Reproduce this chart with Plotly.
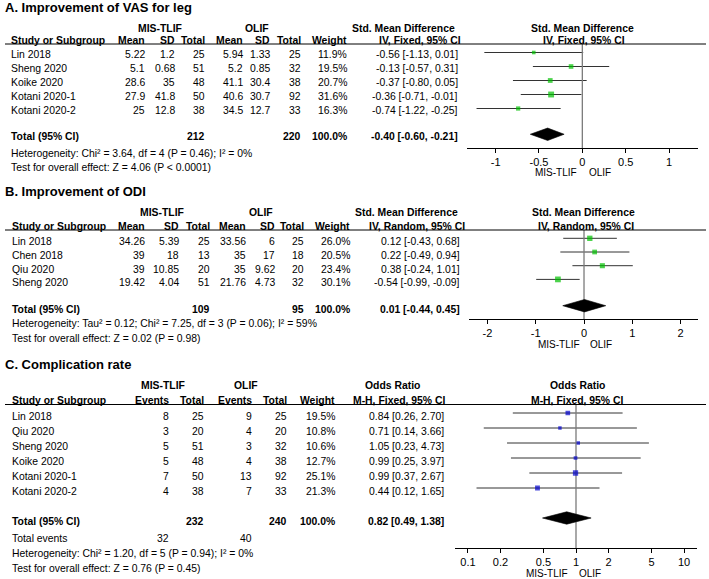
import math
import plotly.graph_objects as go

W, H = 709, 579
FONT = "Liberation Sans, Arial, sans-serif"
FS = 10.4

# ---------------- Panel A data ----------------
a_title = "A. Improvement of VAS for leg"
a_studies = ["Lin 2018", "Sheng 2020", "Koike 2020", "Kotani 2020-1", "Kotani 2020-2"]
a_mis_mean = [5.22, 5.1, 28.6, 27.9, 25]
a_mis_sd = [1.2, 0.68, 35, 41.8, 12.8]
a_mis_n = [25, 51, 48, 50, 38]
a_olif_mean = [5.94, 5.2, 41.1, 40.6, 34.5]
a_olif_sd = [1.33, 0.85, 30.4, 30.7, 12.7]
a_olif_n = [25, 32, 38, 92, 33]
a_weight = [11.9, 19.5, 20.7, 31.6, 16.3]
a_est = [-0.56, -0.13, -0.37, -0.36, -0.74]
a_lo = [-1.13, -0.57, -0.80, -0.71, -1.22]
a_hi = [0.01, 0.31, 0.05, -0.01, -0.25]
a_tot_mis_n, a_tot_olif_n = 212, 220
a_tot_est, a_tot_lo, a_tot_hi = -0.40, -0.60, -0.21
a_het = "Heterogeneity: Chi² = 3.64, df = 4 (P = 0.46); I² = 0%"
a_test = "Test for overall effect: Z = 4.06 (P < 0.0001)"
a_measure = "Std. Mean Difference"
a_method = "IV, Fixed, 95% CI"
a_ticks = [-1, -0.5, 0, 0.5, 1]

# ---------------- Panel B data ----------------
b_title = "B. Improvement of ODI"
b_studies = ["Lin 2018", "Chen 2018", "Qiu 2020", "Sheng 2020"]
b_mis_mean = [34.26, 39, 39, 19.42]
b_mis_sd = [5.39, 18, 10.85, 4.04]
b_mis_n = [25, 13, 20, 51]
b_olif_mean = [33.56, 35, 35, 21.76]
b_olif_sd = [6, 17, 9.62, 4.73]
b_olif_n = [25, 18, 20, 32]
b_weight = [26.0, 20.5, 23.4, 30.1]
b_est = [0.12, 0.22, 0.38, -0.54]
b_lo = [-0.43, -0.49, -0.24, -0.99]
b_hi = [0.68, 0.94, 1.01, -0.09]
b_tot_mis_n, b_tot_olif_n = 109, 95
b_tot_est, b_tot_lo, b_tot_hi = 0.01, -0.44, 0.45
b_het = "Heterogeneity: Tau² = 0.12; Chi² = 7.25, df = 3 (P = 0.06); I² = 59%"
b_test = "Test for overall effect: Z = 0.02 (P = 0.98)"
b_measure = "Std. Mean Difference"
b_method = "IV, Random, 95% CI"
b_ticks = [-2, -1, 0, 1, 2]

# ---------------- Panel C data ----------------
c_title = "C. Complication rate"
c_studies = ["Lin 2018", "Qiu 2020", "Sheng 2020", "Koike 2020", "Kotani 2020-1", "Kotani 2020-2"]
c_mis_ev = [8, 3, 5, 5, 7, 4]
c_mis_n = [25, 20, 51, 48, 50, 38]
c_olif_ev = [9, 4, 3, 4, 13, 7]
c_olif_n = [25, 20, 32, 38, 92, 33]
c_weight = [19.5, 10.8, 10.6, 12.7, 25.1, 21.3]
c_est = [0.84, 0.71, 1.05, 0.99, 0.99, 0.44]
c_lo = [0.26, 0.14, 0.23, 0.25, 0.37, 0.12]
c_hi = [2.70, 3.66, 4.73, 3.97, 2.67, 1.65]
c_tot_mis_n, c_tot_olif_n = 232, 240
c_tot_mis_ev, c_tot_olif_ev = 32, 40
c_tot_est, c_tot_lo, c_tot_hi = 0.82, 0.49, 1.38
c_het = "Heterogeneity: Chi² = 1.20, df = 5 (P = 0.94); I² = 0%"
c_test = "Test for overall effect: Z = 0.76 (P = 0.45)"
c_measure = "Odds Ratio"
c_method = "M-H, Fixed, 95% CI"
c_ticks = [0.1, 0.2, 0.5, 1, 2, 5, 10]

group1, group2 = "MIS-TLIF", "OLIF"

GREEN = "#00c000"
BLUE = "#0000cc"

annotations = []
shapes = []
traces = []
layout_axes = {}


def fmt_num(v):
    return str(v)


def fmt_tick(v):
    return str(int(v)) if float(v).is_integer() else str(v)


def fmt_ci(e, l, h):
    return f"{e:.2f} [{l:.2f}, {h:.2f}]"


def add_text(text, x, y, anchor="left", bold=False, size=FS, yref="paper", yshift=0):
    if bold:
        text = f"<b>{text}</b>"
    yy = (1 - y / H) if yref == "paper" else y
    annotations.append(dict(
        text=text, x=x / W, xref="paper", y=yy, yref=yref,
        xanchor=anchor, yanchor="middle", showarrow=False, borderpad=0,
        font=dict(size=size, color="black", family=FONT), yshift=yshift))


def build_panel(k, spec, title, cols, studies, weights, est, lo, hi,
                totals, tot_est, tot_lo, tot_hi, measure, method,
                ticks, ref, log, color, foot):
    yname = "y" if k == 1 else f"y{k}"
    xname = "x" if k == 1 else f"x{k}"
    r0, step, off = spec["row0"], spec["step"], spec["off"]
    y_bot = (spec["axis"] - r0) / step
    y_top = (spec["rule"] - r0) / step
    idx = list(range(len(studies)))
    tot_idx = spec["tot_idx"]

    # title & headers
    add_text(title, 4, spec["title"], bold=True, size=13)
    add_text(group1, spec["g1"], spec["hdr1"], anchor="center", bold=True)
    add_text(group2, spec["g2"], spec["hdr1"], anchor="center", bold=True)
    add_text(measure, spec["mcol"], spec["hdr1"], anchor="center", bold=True)
    add_text(measure, spec["mplot"], spec["hdr1"], anchor="center", bold=True)
    add_text("Study or Subgroup", spec["left"], spec["hdr2"], bold=True)
    for hdr, xr, _vals in cols:
        add_text(hdr, xr, spec["hdr2"], anchor="right", bold=True)
    add_text("Weight", spec["wcol"], spec["hdr2"], anchor="right", bold=True)
    add_text(method, spec["icol"], spec["hdr2"], anchor="center", bold=True)
    add_text(method, spec["iplot"], spec["hdr2"], anchor="center", bold=True)
    shapes.append(dict(type="line", xref="paper", yref="paper",
                       x0=5 / W, x1=706 / W, y0=1 - spec["rule"] / H, y1=1 - spec["rule"] / H,
                       line=dict(color="black", width=1)))

    # study rows
    for i, name in enumerate(studies):
        add_text(name, spec["left"], i, yref=yname, yshift=-off)
        for _hdr, xr, vals in cols:
            add_text(fmt_num(vals[i]), xr, i, anchor="right", yref=yname, yshift=-off)
        add_text(f"{weights[i]:.1f}%", spec["wcol"], i, anchor="right", yref=yname, yshift=-off)
        add_text(fmt_ci(est[i], lo[i], hi[i]), spec["ci"], i, anchor="right", yref=yname, yshift=-off)

    # total row
    add_text("Total (95% CI)", spec["left"], tot_idx, bold=True, yref=yname, yshift=-off)
    for xr, val in totals:
        add_text(str(val), xr, tot_idx, anchor="right", bold=True, yref=yname, yshift=-off)
    add_text(f"{sum(weights):.1f}%", spec["wcol"], tot_idx, anchor="right", bold=True, yref=yname, yshift=-off)
    add_text(fmt_ci(tot_est, tot_lo, tot_hi), spec["ci"], tot_idx, anchor="right", bold=True,
             yref=yname, yshift=-off)
    for txt, ypx, extra in foot:
        add_text(txt, spec["left"], ypx)
        for xr, val in extra:
            add_text(str(val), xr, ypx, anchor="right")

    # axis direction labels
    add_text(group1, spec["lbl_r"], spec["lbl"], anchor="right", size=10)
    add_text(group2, spec["lbl_l"], spec["lbl"], anchor="left", size=10)

    # CI lines
    cx, cy = [], []
    for i in idx:
        cx += [lo[i], hi[i], None]
        cy += [i, i, None]
    traces.append(go.Scatter(x=cx, y=cy, mode="lines", xaxis=xname, yaxis=yname,
                             line=dict(color="#333333", width=1), hoverinfo="skip"))
    # reference line
    traces.append(go.Scatter(x=[ref, ref], y=[y_top, y_bot], mode="lines", xaxis=xname, yaxis=yname,
                             line=dict(color="#7a7a7a", width=1.3), hoverinfo="skip"))
    # point estimates
    traces.append(go.Scatter(x=est, y=idx, mode="markers", xaxis=xname, yaxis=yname,
                             marker=dict(symbol="square", color=color,
                                         size=[1.05 * math.sqrt(w) for w in weights],
                                         line=dict(width=0))))
    # pooled diamond
    hh = 6.2 / step
    traces.append(go.Scatter(x=[tot_lo, tot_est, tot_hi, tot_est, tot_lo],
                             y=[tot_idx, tot_idx - hh, tot_idx, tot_idx + hh, tot_idx],
                             mode="lines", fill="toself", fillcolor="black",
                             line=dict(color="black", width=0.6), xaxis=xname, yaxis=yname))

    xa = dict(domain=[spec["xl"] / W, spec["xr"] / W], range=spec["xrange"], anchor=yname,
              showline=True, linecolor="black", linewidth=1, ticks="outside", ticklen=4,
              tickcolor="black", tickwidth=1, tickvals=ticks, ticktext=[fmt_tick(t) for t in ticks],
              tickfont=dict(size=11, family=FONT, color="black"), showgrid=False, zeroline=False,
              fixedrange=True)
    if log:
        xa["type"] = "log"
    ya = dict(domain=[1 - spec["axis"] / H, 1 - spec["rule"] / H], range=[y_bot, y_top],
              visible=False, fixedrange=True, anchor=xname)
    layout_axes["xaxis" if k == 1 else f"xaxis{k}"] = xa
    layout_axes["yaxis" if k == 1 else f"yaxis{k}"] = ya


spec_a = dict(row0=52.5, step=14.0, off=2.5, tot_idx=5.84, rule=44, axis=148, title=8,
              hdr1=28, hdr2=41, left=10, g1=160, g2=257, mcol=403, mplot=582.5,
              wcol=347.5, icol=420, iplot=584, ci=458.5, lbl=172, lbl_r=577.5, lbl_l=588,
              xl=467, xr=698, xrange=[-1.33, 1.334])
build_panel(1, spec_a, a_title,
            [("Mean", 146, a_mis_mean), ("SD", 176, a_mis_sd), ("Total", 206, a_mis_n),
             ("Mean", 243.5, a_olif_mean), ("SD", 271, a_olif_sd), ("Total", 302, a_olif_n)],
            a_studies, a_weight, a_est, a_lo, a_hi,
            [(206, a_tot_mis_n), (302, a_tot_olif_n)], a_tot_est, a_tot_lo, a_tot_hi,
            a_measure, a_method, a_ticks, 0, False, GREEN,
            [(a_het, 153, []), (a_test, 167, [])])

spec_b = dict(row0=238.3, step=13.7, off=3.3, tot_idx=4.92, rule=230, axis=319, title=191.5,
              hdr1=213, hdr2=226, left=10.5, g1=162, g2=260.5, mcol=406, mplot=583.5,
              wcol=351, icol=416.5, iplot=585.5, ci=460.5, lbl=344, lbl_r=581, lbl_l=589,
              xl=469, xr=698, xrange=[-2.381, 2.360])
build_panel(2, spec_b, b_title,
            [("Mean", 146, b_mis_mean), ("SD", 180, b_mis_sd), ("Total", 211, b_mis_n),
             ("Mean", 247, b_olif_mean), ("SD", 275.5, b_olif_sd), ("Total", 304.5, b_olif_n)],
            b_studies, b_weight, b_est, b_lo, b_hi,
            [(211, b_tot_mis_n), (304.5, b_tot_olif_n)], b_tot_est, b_tot_lo, b_tot_hi,
            b_measure, b_method, b_ticks, 0, False, GREEN,
            [(b_het, 323, []), (b_test, 338, [])])

spec_c = dict(row0=413, step=15.0, off=3.5, tot_idx=7.0, rule=404.5, axis=548, title=365,
              hdr1=385, hdr2=400, left=11, g1=162.5, g2=246, mcol=392, mplot=577,
              wcol=335.5, icol=398.5, iplot=577, ci=445, lbl=573, lbl_r=568.5, lbl_l=578,
              xl=455, xr=697, xrange=[-1.12, 1.12])
build_panel(3, spec_c, c_title,
            [("Events", 170, c_mis_ev), ("Total", 205, c_mis_n),
             ("Events", 252.5, c_olif_ev), ("Total", 287.5, c_olif_n)],
            c_studies, c_weight, c_est, c_lo, c_hi,
            [(205, c_tot_mis_n), (287.5, c_tot_olif_n)], c_tot_est, c_tot_lo, c_tot_hi,
            c_measure, c_method, c_ticks, 1, True, BLUE,
            [("Total events", 538, [(170, c_tot_mis_ev), (252.5, c_tot_olif_ev)]),
             (c_het, 553, []), (c_test, 568, [])])

fig = go.Figure(data=traces)
fig.update_layout(
    width=W, height=H, margin=dict(l=0, r=0, t=0, b=0),
    paper_bgcolor="white", plot_bgcolor="white", showlegend=False,
    font=dict(family=FONT, size=FS, color="black"),
    annotations=annotations, shapes=shapes, **layout_axes)
fig.write_html("out.html", config={"displayModeBar": False, "staticPlot": True},
               post_script="document.body.style.margin='0px';document.body.style.overflow='hidden';")
